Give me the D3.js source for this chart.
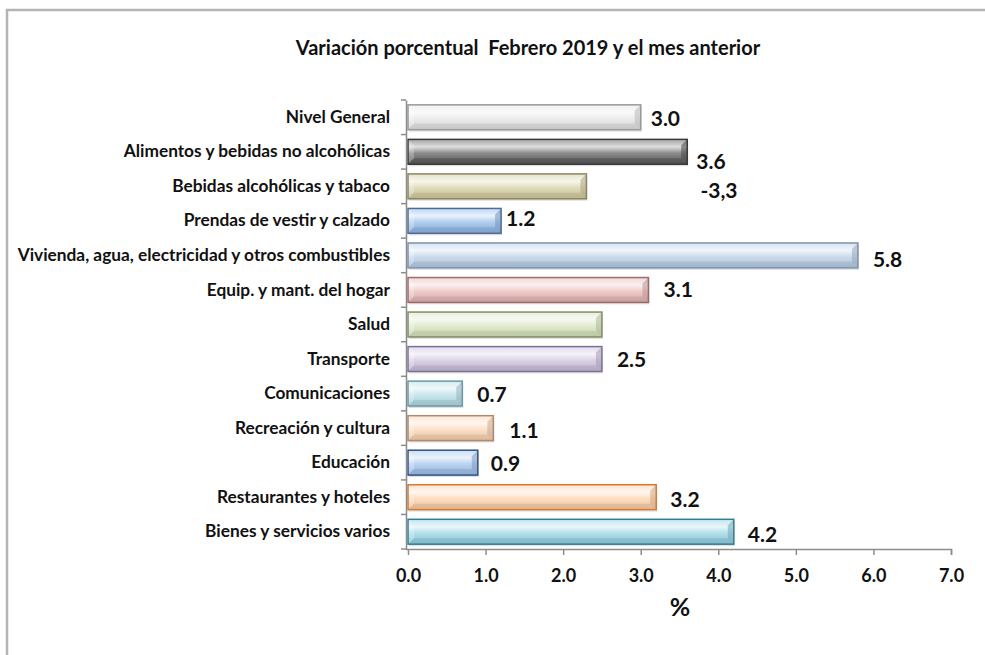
<!DOCTYPE html>
<html><head><meta charset="utf-8">
<script src="https://cdn.jsdelivr.net/npm/d3@7"></script>
<style>
html,body{margin:0;padding:0;background:#fff;}
svg{display:block;font-family:Lato,"Open Sans",sans-serif;}
</style></head>
<body><svg id="c" width="985" height="655"></svg>
<script>
const categories = ["Nivel General","Alimentos y bebidas no alcohólicas","Bebidas alcohólicas y tabaco","Prendas de vestir y calzado","Vivienda, agua, electricidad y otros combustibles","Equip. y mant. del hogar","Salud","Transporte","Comunicaciones","Recreación y cultura","Educación","Restaurantes y hoteles","Bienes y servicios varios"];
const values = [3.0,3.6,2.3,1.2,5.8,3.1,2.5,2.5,0.7,1.1,0.9,3.2,4.2];
const valueLabels = ["3.0","3.6","-3,3","1.2","5.8","3.1","","2.5","0.7","1.1","0.9","3.2","4.2"];
const xTicks = [0,1,2,3,4,5,6,7];
const title = "Variación porcentual  Febrero 2019 y el mes anterior";
const xTitle = "%";

// styling: base colour, border colour per bar
const barColors = ["#e4e4e4","#5a5a5a","#d4cd9f","#8fb8ea","#b8cde6","#e7b6b5","#d6e3bb","#cbbfdc","#b3dde6","#fbd3b2","#9fc0ec","#fcd0a8","#92d2e3"];
const barStroke = ["#9a9a9a","#3a3a3a","#8c865e","#4d6d95","#7d93b0","#a06a6a","#7f8f66","#7e7294","#6b9aa4","#b08a6a","#2f5485","#d67a30","#2f7f95"];
const labelNudge = [[10,3],[9,12],[114,6],[5,0],[15,6],[15,2],[15,3],[15,3],[15,3],[16,4],[13,3],[14,4],[14,5]];

const svg = d3.select("#c");
// frame
svg.append("path").attr("d","M7,655 L7,10 L985,10").attr("fill","none").attr("stroke","#b4b4b4").attr("stroke-width",2.5);

const x = d3.scaleLinear().domain([0,7]).range([408,951]);
const y = d3.scaleBand().domain(categories).range([100,549]).paddingInner(0.28).paddingOuter(0.14);

svg.append("text").attr("x",528).attr("y",50).attr("text-anchor","middle").attr("dominant-baseline","middle")
  .attr("font-weight","bold").attr("font-size",20).attr("fill","#111").attr("xml:space","preserve").text(title);

const defs = svg.append("defs");
categories.forEach((c,i)=>{
  const base = d3.color(barColors[i]);
  const g = defs.append("linearGradient").attr("id","g"+i).attr("x1",0).attr("y1",0).attr("x2",0).attr("y2",1);
  g.append("stop").attr("offset","0%").attr("stop-color",d3.interpolateRgb(base,"#fff")(0.45));
  g.append("stop").attr("offset","30%").attr("stop-color",d3.interpolateRgb(base,"#fff")(0.8));
  g.append("stop").attr("offset","55%").attr("stop-color",d3.interpolateRgb(base,"#fff")(0.3));
  g.append("stop").attr("offset","100%").attr("stop-color",base.darker(0.25));
});

// bars
const bars = svg.append("g").selectAll("g").data(categories).join("g");
bars.each(function(c,i){
  const g = d3.select(this);
  const x0 = x(0), x1 = x(values[i]), y0 = y(c), h = y.bandwidth(), y1 = y0+h, b = Math.min(6,h/3);
  g.append("rect").attr("x",x0+1).attr("y",y0+2).attr("width",x1-x0).attr("height",h).attr("fill","#000").attr("opacity",0.12);
  g.append("rect").attr("x",x0).attr("y",y0).attr("width",x1-x0).attr("height",h).attr("fill","url(#g"+i+")");
  g.append("path").attr("d",`M${x0},${y0} L${x0+b},${y0+b} L${x0+b},${y1-b} L${x0},${y1} Z`).attr("fill","#fff").attr("opacity",0.25);
  g.append("path").attr("d",`M${x1},${y0} L${x1-b},${y0+b} L${x1-b},${y1-b} L${x1},${y1} Z`).attr("fill",d3.color(barColors[i]).darker(0.6)).attr("opacity",0.55);
  g.append("path").attr("d",`M${x0},${y1} L${x0+b},${y1-b} L${x1-b},${y1-b} L${x1},${y1} Z`).attr("fill",d3.color(barColors[i]).darker(0.5)).attr("opacity",0.45);
  g.append("rect").attr("x",x0).attr("y",y0).attr("width",x1-x0).attr("height",h).attr("fill","none").attr("stroke",barStroke[i]).attr("stroke-width",1.5);
});

// y axis
const yAxis = d3.axisLeft(y).tickSize(0).tickPadding(16);
const ya = svg.append("g").attr("transform","translate(406,0)").call(yAxis);
ya.select(".domain").attr("stroke","#8c8c8c").attr("stroke-width",1.5);
ya.selectAll("text").attr("font-weight","bold").attr("font-size",17.3).attr("fill","#111").attr("font-family","Lato");
const bounds = d3.range(categories.length+1).map(k=> k===0 ? 100 : (k===categories.length ? 549 : y(categories[k]) - y.step()*y.paddingInner()/2));
svg.append("g").selectAll("line").data(bounds).join("line")
  .attr("x1",401).attr("x2",406).attr("y1",d=>d).attr("y2",d=>d).attr("stroke","#8c8c8c").attr("stroke-width",1.5);

// x axis
const xAxis = d3.axisBottom(x).tickValues(xTicks).tickFormat(d3.format(".1f")).tickSize(6).tickPadding(14);
const xa = svg.append("g").attr("transform","translate(0,549)").call(xAxis);
xa.select(".domain").attr("stroke","#8c8c8c").attr("stroke-width",1.5).attr("d","M406,0.5H951.5V6");
xa.selectAll(".tick line").attr("stroke","#8c8c8c").attr("stroke-width",1.5);
xa.selectAll("text").attr("font-weight","bold").attr("font-size",18).attr("fill","#111").attr("font-family","Lato");

svg.append("text").attr("x",680).attr("y",610).attr("text-anchor","middle").attr("dominant-baseline","middle")
  .attr("font-weight","bold").attr("font-size",25).attr("fill","#111").text(xTitle);

// value labels
svg.append("g").selectAll("text").data(categories).join("text")
  .attr("x",(c,i)=>x(values[i])+labelNudge[i][0])
  .attr("y",(c,i)=>y(c)+y.bandwidth()/2+labelNudge[i][1])
  .attr("dominant-baseline","middle").attr("font-weight","bold").attr("font-size",21).attr("fill","#111")
  .text((c,i)=>valueLabels[i]);
</script></body></html>
